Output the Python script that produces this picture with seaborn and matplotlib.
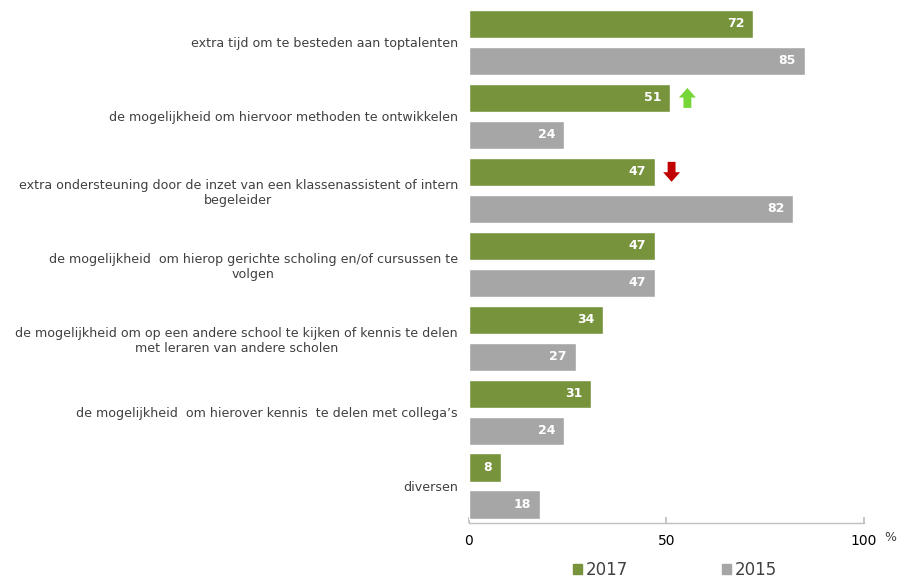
import matplotlib
matplotlib.use("Agg")
import matplotlib.pyplot as plt
import seaborn as sns
import pandas as pd
from matplotlib.patches import Patch

categories = [
    "extra tijd om te besteden aan toptalenten",
    "de mogelijkheid om hiervoor methoden te ontwikkelen",
    "extra ondersteuning door de inzet van een klassenassistent of intern\nbegeleider",
    "de mogelijkheid  om hierop gerichte scholing en/of cursussen te\nvolgen",
    "de mogelijkheid om op een andere school te kijken of kennis te delen\nmet leraren van andere scholen",
    "de mogelijkheid  om hierover kennis  te delen met collega\u2019s",
    "diversen",
]
values_2017 = [72, 51, 47, 47, 34, 31, 8]
values_2015 = [85, 24, 82, 47, 27, 24, 18]
years = ["2017", "2015"]
# trend arrows: (category index, direction)
arrows = [(1, "up"), (2, "down")]

GREEN = "#77933C"
GREY = "#A6A6A6"
TEXT = "#404040"

df = pd.DataFrame({
    "cat": categories * 2,
    "year": [years[0]] * len(categories) + [years[1]] * len(categories),
    "value": values_2017 + values_2015,
})

sns.set_theme(style="white")
plt.rcParams["font.family"] = ["DejaVu Sans"]

fig = plt.figure(figsize=(9, 5.8), dpi=100)
ax = fig.add_axes([0.521, 0.0983, 0.439, 0.8922])

sns.barplot(data=df, y="cat", x="value", hue="year", order=categories,
            hue_order=years, palette=[GREEN, GREY], orient="h",
            width=1.0, gap=0.24, ax=ax, legend=False, saturation=1)

for container in ax.containers:
    for rect in container:
        w = rect.get_width()
        yc = rect.get_y() + rect.get_height() / 2
        ax.text(w - 2.2, yc, f"{w:.0f}", ha="right", va="center",
                color="white", fontsize=9, fontweight="bold")

# trend arrows
green_bars = ax.containers[0]
for idx, d in arrows:
    rect = green_bars[idx]
    xe = rect.get_width() + 4.3
    yc = rect.get_y() + rect.get_height() / 2
    L = 0.27
    if d == "up":
        ax.arrow(xe, yc + L / 2, 0, -L, width=2.0, head_width=4.3,
                 head_length=0.13, length_includes_head=True,
                 color="#77D637", lw=0)
    else:
        ax.arrow(xe, yc - L / 2, 0, L, width=2.0, head_width=4.3,
                 head_length=0.13, length_includes_head=True,
                 color="#C00000", lw=0)

ax.set_xlim(0, 100)
ax.set_ylim(6.5, -0.5)
ax.set_xticks([0, 50, 100])
ax.set_xlabel("")
ax.set_ylabel("")
for s in ["top", "right", "left"]:
    ax.spines[s].set_visible(False)
ax.spines["bottom"].set_color("#BFBFBF")
ax.spines["bottom"].set_linewidth(1)
ax.tick_params(axis="x", direction="in", length=4, color="#BFBFBF",
               labelsize=10, labelcolor="black", pad=8, bottom=True)
ax.tick_params(axis="y", length=0, pad=8, labelsize=9.1, labelcolor=TEXT)
for lab in ax.get_yticklabels():
    lab.set_multialignment("center")

fig.text(0.989, 0.074, "%", fontsize=9, color=TEXT, ha="center", va="center")

handles = [Patch(color=GREEN, label=years[0]), Patch(color=GREY, label=years[1])]
fig.legend(handles=handles, loc="center", bbox_to_anchor=(0.75, 0.018),
           ncol=2, frameon=False, fontsize=12, handlelength=0.55,
           handleheight=0.55, handletextpad=0.25, columnspacing=5.6,
           labelcolor=TEXT, borderpad=0.1)

fig.savefig("out.png", dpi=100)
